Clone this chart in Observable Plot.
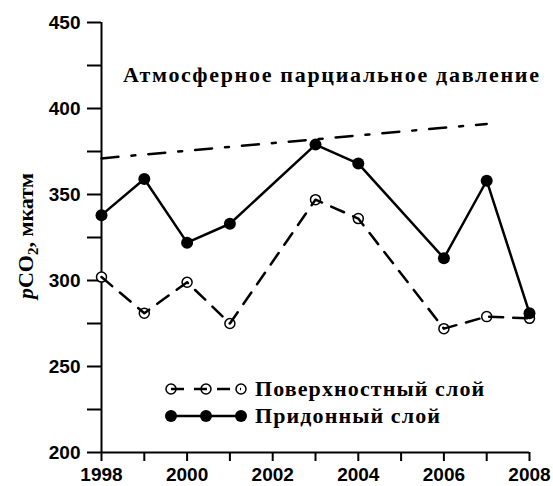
<!DOCTYPE html>
<html>
<head>
<meta charset="utf-8">
<script src="https://cdn.jsdelivr.net/npm/d3@7"></script>
<script src="https://cdn.jsdelivr.net/npm/@observablehq/plot@0.6"></script>
<style>
  html, body { margin: 0; padding: 0; background: #fff; }
  #chart { position: relative; width: 553px; height: 486px; }
</style>
</head>
<body>
<div id="chart"></div>
<script>
// ---- data ----
const years = [1998, 1999, 2000, 2001, 2003, 2004, 2006, 2007, 2008];
const bottomLayer = [338, 359, 322, 333, 379, 368, 313, 358, 281];   // Придонный слой
const surfaceLayer = [302, 281, 299, 275, 347, 336, 272, 279, 278];  // Поверхностный слой
const atmYears = [1998, 2007];
const atmValues = [371, 391];                                        // Атмосферное парциальное давление
const yTickValues = [200, 225, 250, 275, 300, 325, 350, 375, 400, 425, 450];
const yTickLabels = [200, 250, 300, 350, 400, 450];
const xTickValues = [1998, 1999, 2000, 2001, 2002, 2003, 2004, 2005, 2006, 2007, 2008];
const xTickLabels = [1998, 2000, 2002, 2004, 2006, 2008];
const titleText = "Атмосферное парциальное давление";
const legendLabels = ["Поверхностный слой", "Придонный слой"];

const bottomData = years.map((y, i) => ({year: y, value: bottomLayer[i]}));
const surfaceData = years.map((y, i) => ({year: y, value: surfaceLayer[i]}));
const atmData = atmYears.map((y, i) => ({year: y, value: atmValues[i]}));

const serif = "'Liberation Serif', 'Times New Roman', serif";

const plot = Plot.plot({
  width: 553,
  height: 486,
  marginLeft: 101,
  marginTop: 22,
  marginRight: 24,
  marginBottom: 34,
  style: {fontFamily: "'Liberation Sans', Arial, sans-serif", fontSize: "19px", background: "#fff", color: "#000", overflow: "visible"},
  x: {domain: [1998, 2008], axis: null},
  y: {domain: [200, 450], axis: null},
  marks: [
    Plot.axisY({ticks: yTickValues, tickSize: 14, tickPadding: 7, strokeWidth: 2, label: null,
      fontWeight: "bold", tickFormat: d => yTickLabels.includes(d) ? String(d) : ""}),
    Plot.axisX({ticks: xTickValues, tickSize: 9, tickPadding: 6, strokeWidth: 2, label: null,
      fontWeight: "bold", tickFormat: d => xTickLabels.includes(d) ? String(d) : ""}),
    Plot.ruleX([1998], {strokeWidth: 2}),
    Plot.ruleY([200], {strokeWidth: 2}),
    Plot.line(atmData, {x: "year", y: "value", stroke: "#000", strokeWidth: 2.5, strokeDasharray: "17,13,4,13"}),
    Plot.dot(surfaceData, {x: "year", y: "value", r: 5, fill: "#fff", stroke: "#000", strokeWidth: 1.5}),
    Plot.line(surfaceData, {x: "year", y: "value", stroke: "#000", strokeWidth: 2.5, strokeDasharray: "14,10"}),
    Plot.line(bottomData, {x: "year", y: "value", stroke: "#000", strokeWidth: 2.5}),
    Plot.dot(bottomData, {x: "year", y: "value", r: 6, fill: "#000", stroke: "none"})
  ]
});

document.getElementById("chart").appendChild(plot);

const svg = d3.select(plot);

// title
svg.append("text")
  .attr("x", 123).attr("y", 82)
  .attr("text-anchor", "start")
  .style("font-family", serif).style("font-weight", "bold").style("font-size", "22px")
  .style("letter-spacing", "1.7px")
  .text(titleText);

// y label
const yl = svg.append("text")
  .attr("transform", "translate(33,236) rotate(-90)")
  .attr("text-anchor", "middle")
  .style("font-family", serif).style("font-weight", "bold").style("font-size", "22px");
yl.append("tspan").style("font-style", "italic").text("p");
yl.append("tspan").text("CO");
yl.append("tspan").attr("dy", 5).style("font-size", "15px").text("2");
yl.append("tspan").attr("dy", -5).text(", мкатм");

// legend
const lg = svg.append("g");
const rows = [
  {y: 389, label: legendLabels[0], dash: "13,10", fill: "#fff", r: 5, open: true},
  {y: 416, label: legendLabels[1], dash: null, fill: "#000", r: 6, open: false}
];
rows.forEach(row => {
  const line = () => lg.append("line").attr("x1", 171).attr("x2", 241).attr("y1", row.y).attr("y2", row.y)
    .attr("stroke", "#000").attr("stroke-width", 2.5)
    .attr("stroke-dasharray", row.dash);
  if (!row.open) line();
  [171, 206, 241].forEach(cx => {
    lg.append("circle").attr("cx", cx).attr("cy", row.y).attr("r", row.r)
      .attr("fill", row.fill).attr("stroke", row.open ? "#000" : "none").attr("stroke-width", 1.5);
  });
  if (row.open) line();
  lg.append("text").attr("x", 255).attr("y", row.y + 7)
    .attr("text-anchor", "start")
    .style("font-family", serif).style("font-weight", "bold").style("font-size", "22px")
    .style("letter-spacing", "1.1px")
    .text(row.label);
});
</script>
</body>
</html>
